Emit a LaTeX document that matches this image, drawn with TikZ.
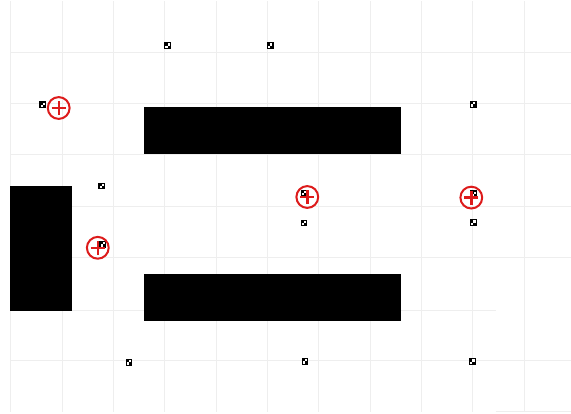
\documentclass[tikz,border=0pt]{standalone}
\definecolor{gridgray}{HTML}{EEEEEE}
\definecolor{markred}{HTML}{DD1B1B}
\tikzset{
  gridline/.style={draw=gridgray, line width=1pt},
  wall/.style={fill=black, draw=none},
  markerbox/.style={fill=black, draw=none, minimum size=6.6pt, inner sep=0pt, outer sep=0pt,
    path picture={
      \fill[white] ([shift={(-1.1pt,-1.1pt)}]path picture bounding box.north east) rectangle ++(-2.2pt,-2.2pt);
      \fill[white] ([shift={(1.1pt,1.1pt)}]path picture bounding box.south west) rectangle ++(2.2pt,2.2pt);
    }},
  plusmark/.style={circle, draw=markred, line width=2pt, minimum size=21.8pt, inner sep=0pt,
    path picture={
      \draw[markred, line width=2.4pt] ([xshift=-7pt]path picture bounding box.center) -- ([xshift=7pt]path picture bounding box.center);
      \draw[markred, line width=2.4pt] ([yshift=-7pt]path picture bounding box.center) -- ([yshift=7pt]path picture bounding box.center);
    }},
}
\begin{document}
\begin{tikzpicture}[x=1pt,y=-1pt]
\useasboundingbox (0,0) rectangle (571,414);
\fill[white] (0,0) rectangle (571,414);
% grid
\foreach \i in {0,...,10} {
  \draw[gridline] (10.7+51.33*\i,1.5) -- (10.7+51.33*\i,412);
}
\foreach \j in {0,1,2,3,4,6} {
  \draw[gridline] (10.7,52.3+51.35*\j) -- (571,52.3+51.35*\j);
}
\draw[gridline] (10.7,310.4) -- (495.5,310.4);
\draw[gridline] (495.5,412) -- (571,412);
% walls
\fill[wall] (143.5,107.3) rectangle (401,154);
\fill[wall] (143.5,274) rectangle (401,320.7);
\fill[wall] (10,186) rectangle (72.3,310.7);
% markers
\node[markerbox] (m1) at (167.5,45.7) {};
\node[markerbox] (m2) at (270.2,45.7) {};
\node[markerbox] (m3) at (42.7,104.8) {};
\node[markerbox] (m4) at (473.2,104.5) {};
\node[markerbox] (m5) at (101.7,186) {};
\node[markerbox] (m6) at (102.7,244.5) {};
\node[markerbox] (m7) at (304,193) {};
\node[markerbox] (m8) at (304,223) {};
\node[markerbox] (m9) at (473.7,193.8) {};
\node[markerbox] (m10) at (473.3,222.7) {};
\node[markerbox] (m11) at (129,362.5) {};
\node[markerbox] (m12) at (305,361.5) {};
\node[markerbox] (m13) at (472.3,361.7) {};
% red targets
\node[plusmark] (p1) at (58.7,108) {};
\node[plusmark] (p2) at (97.8,247.8) {};
\node[plusmark] (p3) at (307.3,197) {};
\node[plusmark] (p4) at (471.3,197.6) {};
\end{tikzpicture}
\end{document}
